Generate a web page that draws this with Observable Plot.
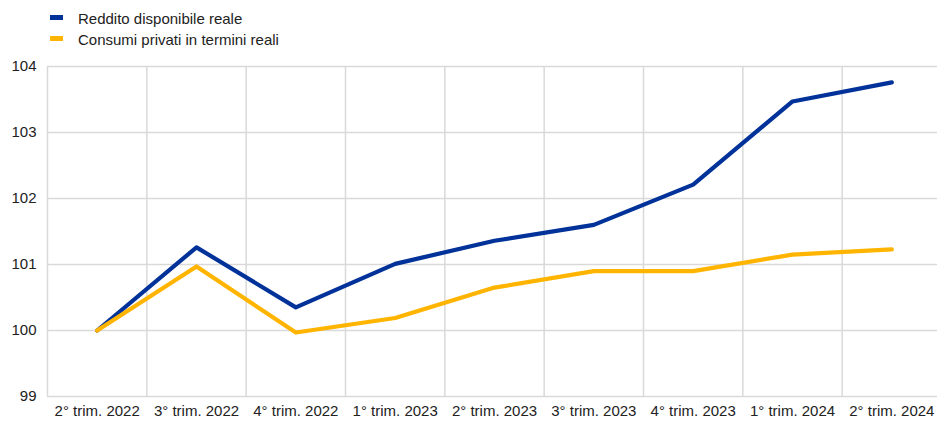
<!DOCTYPE html>
<html>
<head>
<meta charset="utf-8">
<script src="https://cdn.jsdelivr.net/npm/d3@7"></script>
<script src="https://cdn.jsdelivr.net/npm/@observablehq/plot@0.6"></script>
<style>
  body { margin: 0; background: #fff; font-family: "Liberation Sans", Arial, sans-serif; }
  #legend { position: relative; height: 52px; width: 937px; }
  .item { position: absolute; left: 50px; font-size: 15px; color: #222; line-height: 17px; }
  .sw { position: absolute; left: 0; top: 5px; width: 13px; height: 5px; }
  .lab { position: absolute; left: 28px; top: 0; white-space: nowrap; }
</style>
</head>
<body>
<div id="legend"></div>
<div id="chart"></div>
<script>
const quarters = ["2° trim. 2022","3° trim. 2022","4° trim. 2022","1° trim. 2023","2° trim. 2023","3° trim. 2023","4° trim. 2023","1° trim. 2024","2° trim. 2024"];
const reddito = [100, 101.26, 100.35, 101.01, 101.36, 101.6, 102.21, 103.47, 103.76];
const consumi = [100, 100.97, 99.97, 100.19, 100.65, 100.9, 100.9, 101.15, 101.23];
const seriesNames = ["Reddito disponibile reale", "Consumi privati in termini reali"];
const seriesColors = ["#003299", "#FFB400"];
const yTicks = [99, 100, 101, 102, 103, 104];

const legend = document.getElementById("legend");
seriesNames.forEach((n, i) => {
  const d = document.createElement("div");
  d.className = "item";
  d.style.top = (10 + i * 21) + "px";
  d.innerHTML = `<span class="sw" style="background:${seriesColors[i]}"></span><span class="lab">${n}</span>`;
  legend.appendChild(d);
});

const data = [];
quarters.forEach((q, i) => {
  data.push({i, q, v: reddito[i], s: seriesNames[0]});
  data.push({i, q, v: consumi[i], s: seriesNames[1]});
});
const idx = quarters.map((_, i) => i);
const bounds = d3.range(0, quarters.length).map(i => i - 0.5);

const plot = Plot.plot({
  width: 937,
  height: 369,
  marginTop: 14,
  marginBottom: 25,
  marginLeft: 47,
  marginRight: 0,
  style: { fontFamily: "'Liberation Sans', Arial, sans-serif", color: "#222", background: "#fff" },
  x: { domain: [-0.5, quarters.length - 0.5], range: [47, 941], label: null },
  y: { domain: [99, 104], label: null },
  color: { domain: seriesNames, range: seriesColors },
  marks: [
    Plot.ruleY(yTicks, { stroke: "#d9d9d9", strokeWidth: 1.5 }),
    Plot.ruleX(bounds, { stroke: "#d9d9d9", strokeWidth: 1.5 }),
    Plot.axisX({ ticks: idx, tickFormat: i => quarters[i], tickSize: 0, tickPadding: 9, fontSize: 15, label: null }),
    Plot.axisY({ ticks: yTicks, tickFormat: d => String(d), tickSize: 0, tickPadding: 11, fontSize: 15, label: null }),
    Plot.line(data, { x: "i", y: "v", z: "s", stroke: "s", strokeWidth: 4.2, strokeLinejoin: "round", strokeLinecap: "round" })
  ]
});
document.getElementById("chart").appendChild(plot);
</script>
</body>
</html>
